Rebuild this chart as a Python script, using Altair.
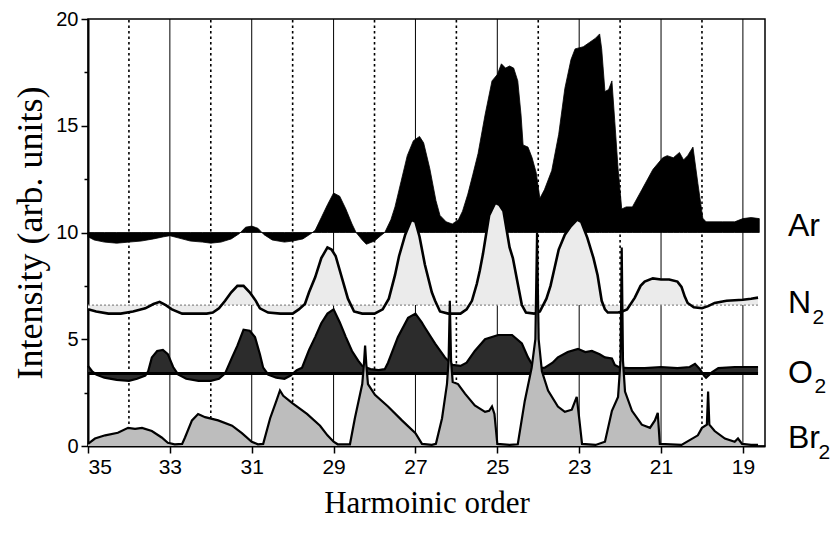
import altair as alt
import pandas as pd

# ---------------- data ----------------
ar_x = [35.0, 34.85, 34.6, 34.3, 34.0, 33.7, 33.4, 33.15, 33.0, 32.8, 32.5, 32.2, 32.0, 31.75, 31.5, 31.3,
        31.15, 31.0, 30.85, 30.7, 30.5, 30.2, 30.0, 29.75, 29.55, 29.45, 29.3, 29.15, 29.0, 28.85, 28.7,
        28.55, 28.45, 28.3, 28.2, 28.0, 27.85, 27.75, 27.6, 27.5, 27.35, 27.2, 27.05, 26.9, 26.8, 26.65,
        26.5, 26.4, 26.25, 26.1, 25.95, 25.85, 25.72, 25.6, 25.47, 25.3, 25.13, 25.0, 24.9, 24.8, 24.7,
        24.6, 24.5, 24.42, 24.37, 24.25, 24.15, 24.05, 23.96, 23.85, 23.67, 23.5, 23.35, 23.2, 23.1, 22.9,
        22.75, 22.6, 22.5, 22.45, 22.37, 22.28, 22.2, 22.13, 22.05, 21.96, 21.85, 21.7, 21.47, 21.2, 20.96,
        20.85, 20.7, 20.55, 20.45, 20.35, 20.22, 20.1, 19.98, 19.9, 19.5, 19.2, 19.0, 18.8, 18.6]
ar_y = [9.8, 9.65, 9.55, 9.5, 9.55, 9.6, 9.7, 9.8, 9.85, 9.75, 9.6, 9.55, 9.5, 9.55, 9.7, 9.95,
        10.25, 10.3, 10.2, 9.9, 9.65, 9.55, 9.6, 9.7, 9.95, 10.1, 10.7, 11.3, 11.85, 11.7, 11.1,
        10.4, 10.0, 9.65, 9.45, 9.6, 9.85, 10.0, 10.6, 11.2, 12.4, 13.6, 14.3, 14.5, 14.2, 13.0,
        11.5, 10.8, 10.5, 10.4, 10.6, 11.0, 11.8, 12.7, 13.7, 15.5, 17.1, 17.4, 17.9, 17.7, 17.8,
        17.7, 17.1, 15.5, 14.1, 14.0, 13.5, 12.8, 11.6, 12.0, 12.9, 14.6, 16.75, 18.1, 18.6, 18.7,
        18.9, 19.1, 19.3, 18.6, 16.6, 16.7, 17.1, 15.2, 13.0, 11.1, 11.2, 11.2, 12.0, 12.95, 13.5,
        13.6, 13.5, 13.75, 13.4, 13.6, 14.0, 12.3, 10.67, 10.5, 10.5, 10.5, 10.65, 10.7, 10.65]

n2_x = [35.0, 34.8, 34.5, 34.2, 33.9, 33.6, 33.4, 33.25, 33.1, 32.95, 32.7, 32.4, 32.1, 31.95, 31.8, 31.65,
        31.5, 31.35, 31.2, 31.05, 30.9, 30.8, 30.6, 30.3, 30.0, 29.85, 29.7, 29.6, 29.45, 29.3, 29.15,
        29.05, 28.95, 28.8, 28.65, 28.5, 28.3, 28.0, 27.8, 27.65, 27.5, 27.4, 27.25, 27.1, 27.0, 26.9,
        26.77, 26.6, 26.52, 26.4, 26.2, 25.9, 25.75, 25.62, 25.5, 25.43, 25.35, 25.2, 25.05, 24.95, 24.85,
        24.7, 24.62, 24.5, 24.4, 24.3, 24.1, 23.96, 23.8, 23.7, 23.6, 23.5, 23.35, 23.2, 23.05, 22.95,
        22.8, 22.65, 22.55, 22.45, 22.37, 22.3, 22.05, 21.95, 21.83, 21.64, 21.5, 21.4, 21.2, 21.0, 20.8,
        20.6, 20.5, 20.42, 20.35, 20.2, 20.0, 19.85, 19.69, 19.4, 19.0, 18.8, 18.63]
n2_y = [6.4, 6.3, 6.2, 6.2, 6.3, 6.45, 6.65, 6.75, 6.6, 6.4, 6.2, 6.2, 6.2, 6.25, 6.45, 6.8,
        7.2, 7.5, 7.5, 7.2, 6.8, 6.45, 6.25, 6.2, 6.2, 6.4, 6.65, 7.2, 7.9, 8.8, 9.3,
        9.2, 8.9, 7.9, 6.9, 6.3, 6.2, 6.2, 6.4, 6.9, 8.0, 8.9, 9.9, 10.6, 10.5, 9.8,
        8.5, 7.2, 6.8, 6.3, 6.2, 6.2, 6.4, 6.8, 7.6, 8.2, 9.0, 10.8, 11.4, 11.3, 11.0,
        9.3, 8.8, 7.6, 6.6, 6.25, 6.2, 6.3, 6.9, 7.5, 8.35, 9.2, 9.9, 10.3, 10.6, 10.5,
        9.75, 8.8, 8.0, 6.8, 6.4, 6.25, 6.25, 6.3, 6.4, 6.95, 7.5, 7.7, 7.85, 7.8, 7.8,
        7.7, 7.45, 7.0, 6.7, 6.5, 6.45, 6.55, 6.7, 6.8, 6.85, 6.9, 6.95]

o2_x = [35.0, 34.9, 34.8, 34.6, 34.3, 34.0, 33.8, 33.6, 33.53, 33.44, 33.31, 33.17, 33.05, 32.92, 32.8,
        32.6, 32.3, 32.0, 31.8, 31.65, 31.48, 31.35, 31.2, 31.05, 30.92, 30.8, 30.72, 30.6, 30.4, 30.2,
        30.05, 29.9, 29.77, 29.6, 29.45, 29.3, 29.15, 29.0, 28.85, 28.7, 28.55, 28.4, 28.3, 28.1, 27.9,
        27.75, 27.67, 27.43, 27.18, 27.0, 26.85, 26.77, 26.52, 26.28, 26.1, 25.9, 25.75, 25.55, 25.3,
        24.98, 24.64, 24.4, 24.25, 24.13, 23.95, 23.84, 23.65, 23.52, 23.28, 23.03, 22.85, 22.69, 22.5,
        22.37, 22.2, 22.13, 22.0, 21.8, 21.4, 21.0, 20.6, 20.3, 20.17, 20.05, 19.95, 19.9, 19.76, 19.6,
        19.2, 18.85, 18.63]
o2_y = [3.75, 3.5, 3.35, 3.2, 3.1, 3.05, 3.15, 3.3, 3.5, 4.15, 4.45, 4.5, 4.3, 3.7, 3.35,
        3.15, 3.05, 3.05, 3.15, 3.4, 4.15, 4.7, 5.45, 5.4, 5.1, 4.3, 3.67, 3.35, 3.2, 3.15,
        3.3, 3.55, 3.67, 4.5, 5.1, 5.75, 6.2, 6.4, 5.8, 5.1, 4.45, 4.0, 3.75, 3.6, 3.55,
        3.6, 3.9, 5.1, 6.0, 6.2, 5.8, 5.55, 4.8, 4.15, 3.8, 3.75, 3.9, 4.45, 5.0,
        5.2, 5.2, 4.8, 4.15, 3.75, 3.65, 3.67, 3.9, 4.15, 4.4, 4.55, 4.4, 4.45, 4.3,
        4.15, 4.1, 3.8, 3.67, 3.65, 3.65, 3.7, 3.65, 3.7, 3.85, 3.6, 3.3, 3.2, 3.45, 3.65,
        3.7, 3.7, 3.7]

br2_x = [35.0, 34.83, 34.58, 34.27, 34.02, 33.85, 33.68, 33.44, 33.2, 33.05, 32.88, 32.7, 32.63, 32.46,
         32.31, 32.14, 31.82, 31.48, 31.24, 31.0, 30.85, 30.72, 30.55, 30.4, 30.31, 30.23, 30.0, 29.65,
         29.33, 29.15, 29.0, 28.9, 28.6, 28.48, 28.3, 28.26, 28.23, 28.2, 28.16, 27.99, 27.67, 27.33,
         27.0, 26.84, 26.6, 26.5, 26.35, 26.23, 26.19, 26.16, 26.13, 26.09, 25.96, 25.79, 25.55, 25.3,
         25.2, 25.13, 25.07, 25.0, 24.7, 24.5, 24.33, 24.16, 24.07, 24.03, 23.99, 23.91, 23.76, 23.52,
         23.35, 23.18, 23.06, 23.0, 22.93, 22.6, 22.37, 22.2, 22.05, 21.99, 21.96, 21.93, 21.88, 21.71,
         21.47, 21.27, 21.15, 21.08, 21.03, 20.5, 20.1, 20.0, 19.88, 19.85, 19.82, 19.69, 19.44, 19.2,
         19.12, 19.02, 18.8, 18.63]
br2_y = [0.1, 0.35, 0.5, 0.62, 0.85, 0.8, 0.85, 0.7, 0.4, 0.15, 0.08, 0.1, 0.4, 1.2,
         1.5, 1.35, 1.2, 0.95, 0.6, 0.2, 0.08, 0.1, 1.3, 2.1, 2.6, 2.35, 2.0, 1.5,
         0.95, 0.5, 0.2, 0.08, 0.08, 1.3, 2.9, 3.8, 4.7, 3.8, 2.9, 2.4, 1.85, 1.2,
         0.6, 0.1, 0.05, 0.1, 1.3, 2.9, 4.0, 6.8, 4.0, 3.0, 2.9, 2.45, 1.9, 1.6,
         1.65, 1.85, 1.5, 0.1, 0.05, 0.08, 2.1, 3.67, 5.0, 10.0, 5.0, 3.5, 2.6, 1.85,
         1.6, 1.7, 2.3, 1.3, 0.1, 0.05, 0.2, 1.65, 2.3, 4.0, 9.3, 4.0, 2.55, 1.65,
         1.0, 0.85, 1.2, 1.55, 0.1, 0.05, 0.5, 0.85, 1.0, 2.55, 1.0, 0.7, 0.35, 0.2,
         0.35, 0.1, 0.05, 0.05]

baselines = {"Ar": 10.0, "N2": 6.6, "O2": 3.4, "Br2": 0.0}

solid_grid = [33, 31, 29, 27, 25, 23, 21, 19]
dotted_grid = [34, 32, 30, 28, 26, 24, 22, 20]
x_ticks = [35, 33, 31, 29, 27, 25, 23, 21, 19]
y_ticks = [0, 2.5, 5, 7.5, 10, 12.5, 15, 17.5, 20]
x_domain = [35, 18.46]
y_domain = [0, 20]

label_main = ["Ar", "N", "O", "Br"]
label_main_x = [17.9, 17.9, 17.9, 17.9]
label_main_y = [9.85, 6.25, 2.95, -0.1]
label_sub = ["2", "2", "2"]
label_sub_x = [17.3, 17.25, 17.15]
label_sub_y = [5.7, 2.5, -0.6]

# ---------------- chart ----------------
def series(xs, ys, base):
    return pd.DataFrame({"order": xs, "val": ys, "base": [base] * len(xs)})

xs = alt.Scale(domain=x_domain, nice=False, zero=False)
ys = alt.Scale(domain=y_domain, nice=False, zero=False)

x_axis = alt.Axis(values=x_ticks, title="Harmoinic order", grid=False,
                  labelFont="Liberation Sans", labelFontSize=21, labelColor="black",
                  labelPadding=3, tickColor="black", tickWidth=1.5, tickSize=7,
                  domainColor="black", domainWidth=2,
                  titleFont="Liberation Serif", titleFontSize=31, titleFontWeight="normal",
                  titleColor="black", titlePadding=11)
y_axis = alt.Axis(values=y_ticks, title="Intensity (arb. units)", grid=False,
                  labelExpr="datum.value % 5 === 0 ? datum.label : ''",
                  labelFont="Liberation Sans", labelFontSize=20, labelColor="black",
                  labelPadding=3, tickColor="black", tickWidth=1.5,
                  tickSize={"condition": {"test": "datum.value % 5 === 0", "value": 7}, "value": 4},
                  domainColor="black", domainWidth=2,
                  titleFont="Liberation Serif", titleFontSize=36, titleFontWeight="normal",
                  titleColor="black", titlePadding=6)

X = alt.X("order:Q", scale=xs, axis=x_axis)
Y = alt.Y("val:Q", scale=ys, axis=y_axis)

grid_solid_df = pd.DataFrame({"order": solid_grid, "val": [y_domain[0]] * len(solid_grid),
                              "top": [y_domain[1]] * len(solid_grid)})
grid_dot_df = pd.DataFrame({"order": dotted_grid, "val": [y_domain[0]] * len(dotted_grid),
                            "top": [y_domain[1]] * len(dotted_grid)})

g1 = alt.Chart(grid_solid_df).mark_rule(color="black", strokeWidth=1).encode(x=X, y=Y, y2="top:Q")
g2 = alt.Chart(grid_dot_df).mark_rule(color="black", strokeWidth=1.6, strokeDash=[2.5, 3]).encode(
    x=X, y=Y, y2="top:Q")

ar = series(ar_x, ar_y, baselines["Ar"])
n2 = series(n2_x, n2_y, baselines["N2"])
o2 = series(o2_x, o2_y, baselines["O2"])
br2 = series(br2_x, br2_y, baselines["Br2"])

ar_area = alt.Chart(ar).mark_area(color="black", stroke="black", strokeWidth=0.8).encode(x=X, y=Y, y2="base:Q")

n2_area = alt.Chart(n2).mark_area(color="#ebebeb").encode(x=X, y=Y, y2="base:Q")
n2_base = alt.Chart(n2).mark_line(color="#8a8a8a", strokeWidth=1.2, strokeDash=[2, 2]).encode(
    x=X, y=alt.Y("base:Q", scale=ys, axis=y_axis))
n2_line = alt.Chart(n2).mark_line(color="black", strokeWidth=2.6).encode(x=X, y=Y)

o2_area = alt.Chart(o2).mark_area(color="#2c2c2c").encode(x=X, y=Y, y2="base:Q")
o2_base = alt.Chart(o2).mark_line(color="black", strokeWidth=3).encode(
    x=X, y=alt.Y("base:Q", scale=ys, axis=y_axis))
o2_line = alt.Chart(o2).mark_line(color="black", strokeWidth=2.2).encode(x=X, y=Y)

br2_area = alt.Chart(br2).mark_area(color="#bdbdbd").encode(x=X, y=Y, y2="base:Q")
br2_line = alt.Chart(br2).mark_line(color="black", strokeWidth=2.2).encode(x=X, y=Y)

lab_df = pd.DataFrame({"order": label_main_x, "val": label_main_y, "txt": label_main})
sub_df = pd.DataFrame({"order": label_sub_x, "val": label_sub_y, "txt": label_sub})
labels = alt.Chart(lab_df).mark_text(font="Liberation Sans", fontSize=32, align="left",
                                     baseline="alphabetic", color="black").encode(x=X, y=Y, text="txt:N")
subs = alt.Chart(sub_df).mark_text(font="Liberation Sans", fontSize=21, align="left",
                                   baseline="alphabetic", color="black").encode(x=X, y=Y, text="txt:N")

chart = alt.layer(g1, g2, ar_area, n2_area, n2_base, n2_line, o2_area, o2_base, o2_line,
                  br2_area, br2_line, labels, subs).properties(
    width=677, height=427,
    autosize=alt.AutoSizeParams(type="none"),
    padding={"left": 80, "top": 11, "right": 65, "bottom": 80},
    background="white",
).configure_view(stroke="black", strokeWidth=1.5)

chart.save("out.html", embed_options={"renderer": "svg", "actions": False})
